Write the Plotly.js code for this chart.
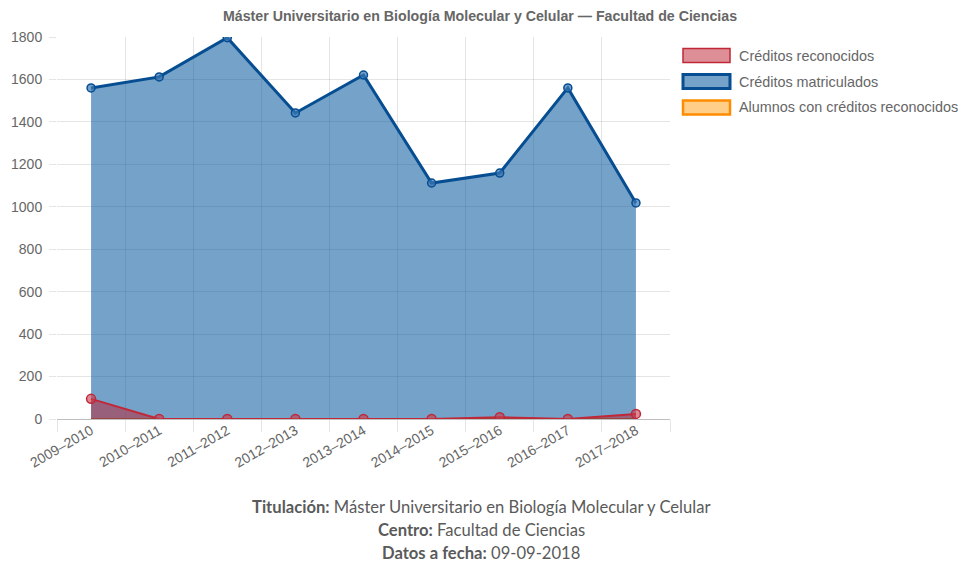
<!DOCTYPE html>
<html><head><meta charset="utf-8">
<script src="https://cdn.plot.ly/plotly-3.0.1.min.js"></script>
<style>html,body{margin:0;padding:0;background:#fff}#chart{width:972px;height:567px}</style>
</head><body><div id="chart"></div>
<script>
const categories = ["2009–2010","2010–2011","2011–2012","2012–2013","2013–2014","2014–2015","2015–2016","2016–2017","2017–2018"];
const creditosReconocidos = [95, 0, 0, 0, 0, 0, 8, 0, 24];
const creditosMatriculados = [1560, 1612, 1797, 1442, 1621, 1112, 1159, 1560, 1018];
const alumnosReconocidos = [0, 0, 0, 0, 0, 0, 0, 0, 0];
const seriesNames = ["Créditos reconocidos","Créditos matriculados","Alumnos con créditos reconocidos"];
const yTicks = [0,200,400,600,800,1000,1200,1400,1600,1800];

const idx = categories.map((_, i) => i);
const F = "Liberation Sans, Arial, Helvetica, sans-serif";
const red = "rgb(192,40,55)", redFill = "rgba(190,30,45,0.5)";
const blue = "rgb(6,78,145)", blueFill = "rgba(0,84,153,0.54)";
const orange = "rgb(255,140,0)", orangeFill = "rgba(255,165,40,0.55)";

const traces = [
  {x: idx, y: alumnosReconocidos, name: seriesNames[2], type: "scatter", mode: "lines",
   fill: "tozeroy", fillcolor: orangeFill, line: {color: orange, width: 2}, showlegend: false, hoverinfo: "skip"},
  {x: idx, y: creditosMatriculados, name: seriesNames[1], type: "scatter", mode: "lines+markers",
   fill: "tozeroy", fillcolor: blueFill, line: {color: blue, width: 3},
   marker: {size: 8, color: "rgba(60,120,180,0.7)", line: {color: blue, width: 1.5}}, showlegend: false},
  {x: idx, y: creditosReconocidos, name: seriesNames[0], type: "scatter", mode: "lines+markers",
   fill: "tozeroy", fillcolor: redFill, line: {color: red, width: 2},
   marker: {size: 9, color: "rgba(200,60,75,0.6)", line: {color: red, width: 1.5}}, showlegend: false}
];

const legFills = [redFill, blueFill, orangeFill];
const legLines = [red, blue, orange];
const legLW = [1.5, 3, 2.5];
const plotL = 57, plotR = 670, plotT = 37, plotB = 419;
const pw = plotR - plotL, ph = plotB - plotT;
const px = v => (v - plotL) / pw, py = v => (plotB - v) / ph;
const legY = [55.5, 81.5, 107.5];
const shapes = [], annotations = [];
seriesNames.forEach((n, i) => {
  shapes.push({type: "rect", xref: "paper", yref: "paper", x0: px(683), x1: px(730), y0: py(legY[i] - 7), y1: py(legY[i] + 7),
    fillcolor: legFills[i], line: {color: legLines[i], width: legLW[i]}});
  annotations.push({xref: "paper", yref: "paper", x: px(737), y: py(legY[i]), xanchor: "left", yanchor: "middle",
    text: n, showarrow: false, font: {family: F, size: 14.4, color: "#666"}});
});
const info = [
  "<b>Titulación:</b> Máster Universitario en Biología Molecular y Celular",
  "<b>Centro:</b> Facultad de Ciencias",
  "<b>Datos a fecha:</b> 09-09-2018"
];
const infoY = [507, 530, 553];
info.forEach((t, i) => annotations.push({xref: "paper", yref: "paper", x: px(481), y: py(infoY[i]),
  xanchor: "center", yanchor: "middle", text: t, showarrow: false, font: {family: "Lato, sans-serif", size: 16.6, color: "#5a5a5a"}}));

const layout = {
  width: 972, height: 567,
  margin: {l: plotL, r: 972 - plotR, t: plotT, b: 567 - plotB},
  paper_bgcolor: "#fff", plot_bgcolor: "#fff",
  title: {text: "<b>Máster Universitario en Biología Molecular y Celular — Facultad de Ciencias</b>",
    x: 480/972, xanchor: "center", y: 1 - 16/567, yanchor: "middle", font: {family: F, size: 14.2, color: "#666"}},
  xaxis: {type: "linear", range: [-0.5, 8.5], tickmode: "array", tickvals: idx, ticktext: categories,
    tickangle: -30, ticks: "", showgrid: false, zeroline: false, showline: false,
    tickfont: {family: F, size: 14, color: "#666"},
    minor: {tick0: 0.5, dtick: 1, showgrid: true, gridcolor: "rgba(0,0,0,0.1)", gridwidth: 1,
      ticks: "outside", ticklen: 12, tickcolor: "rgba(0,0,0,0.1)"}},
  yaxis: {range: [0, 1800], tickmode: "array", tickvals: yTicks, showgrid: true, gridcolor: "rgba(0,0,0,0.1)",
    zeroline: true, zerolinecolor: "rgba(0,0,0,0.25)", zerolinewidth: 1, showline: false,
    ticks: "outside", ticklen: 7, tickcolor: "rgba(0,0,0,0.1)", ticklabelstandoff: 4,
    tickfont: {family: F, size: 14, color: "#666"}},
  showlegend: false, shapes: shapes, annotations: annotations
};
Plotly.newPlot("chart", traces, layout, {displayModeBar: false, staticPlot: true});
</script></body></html>
